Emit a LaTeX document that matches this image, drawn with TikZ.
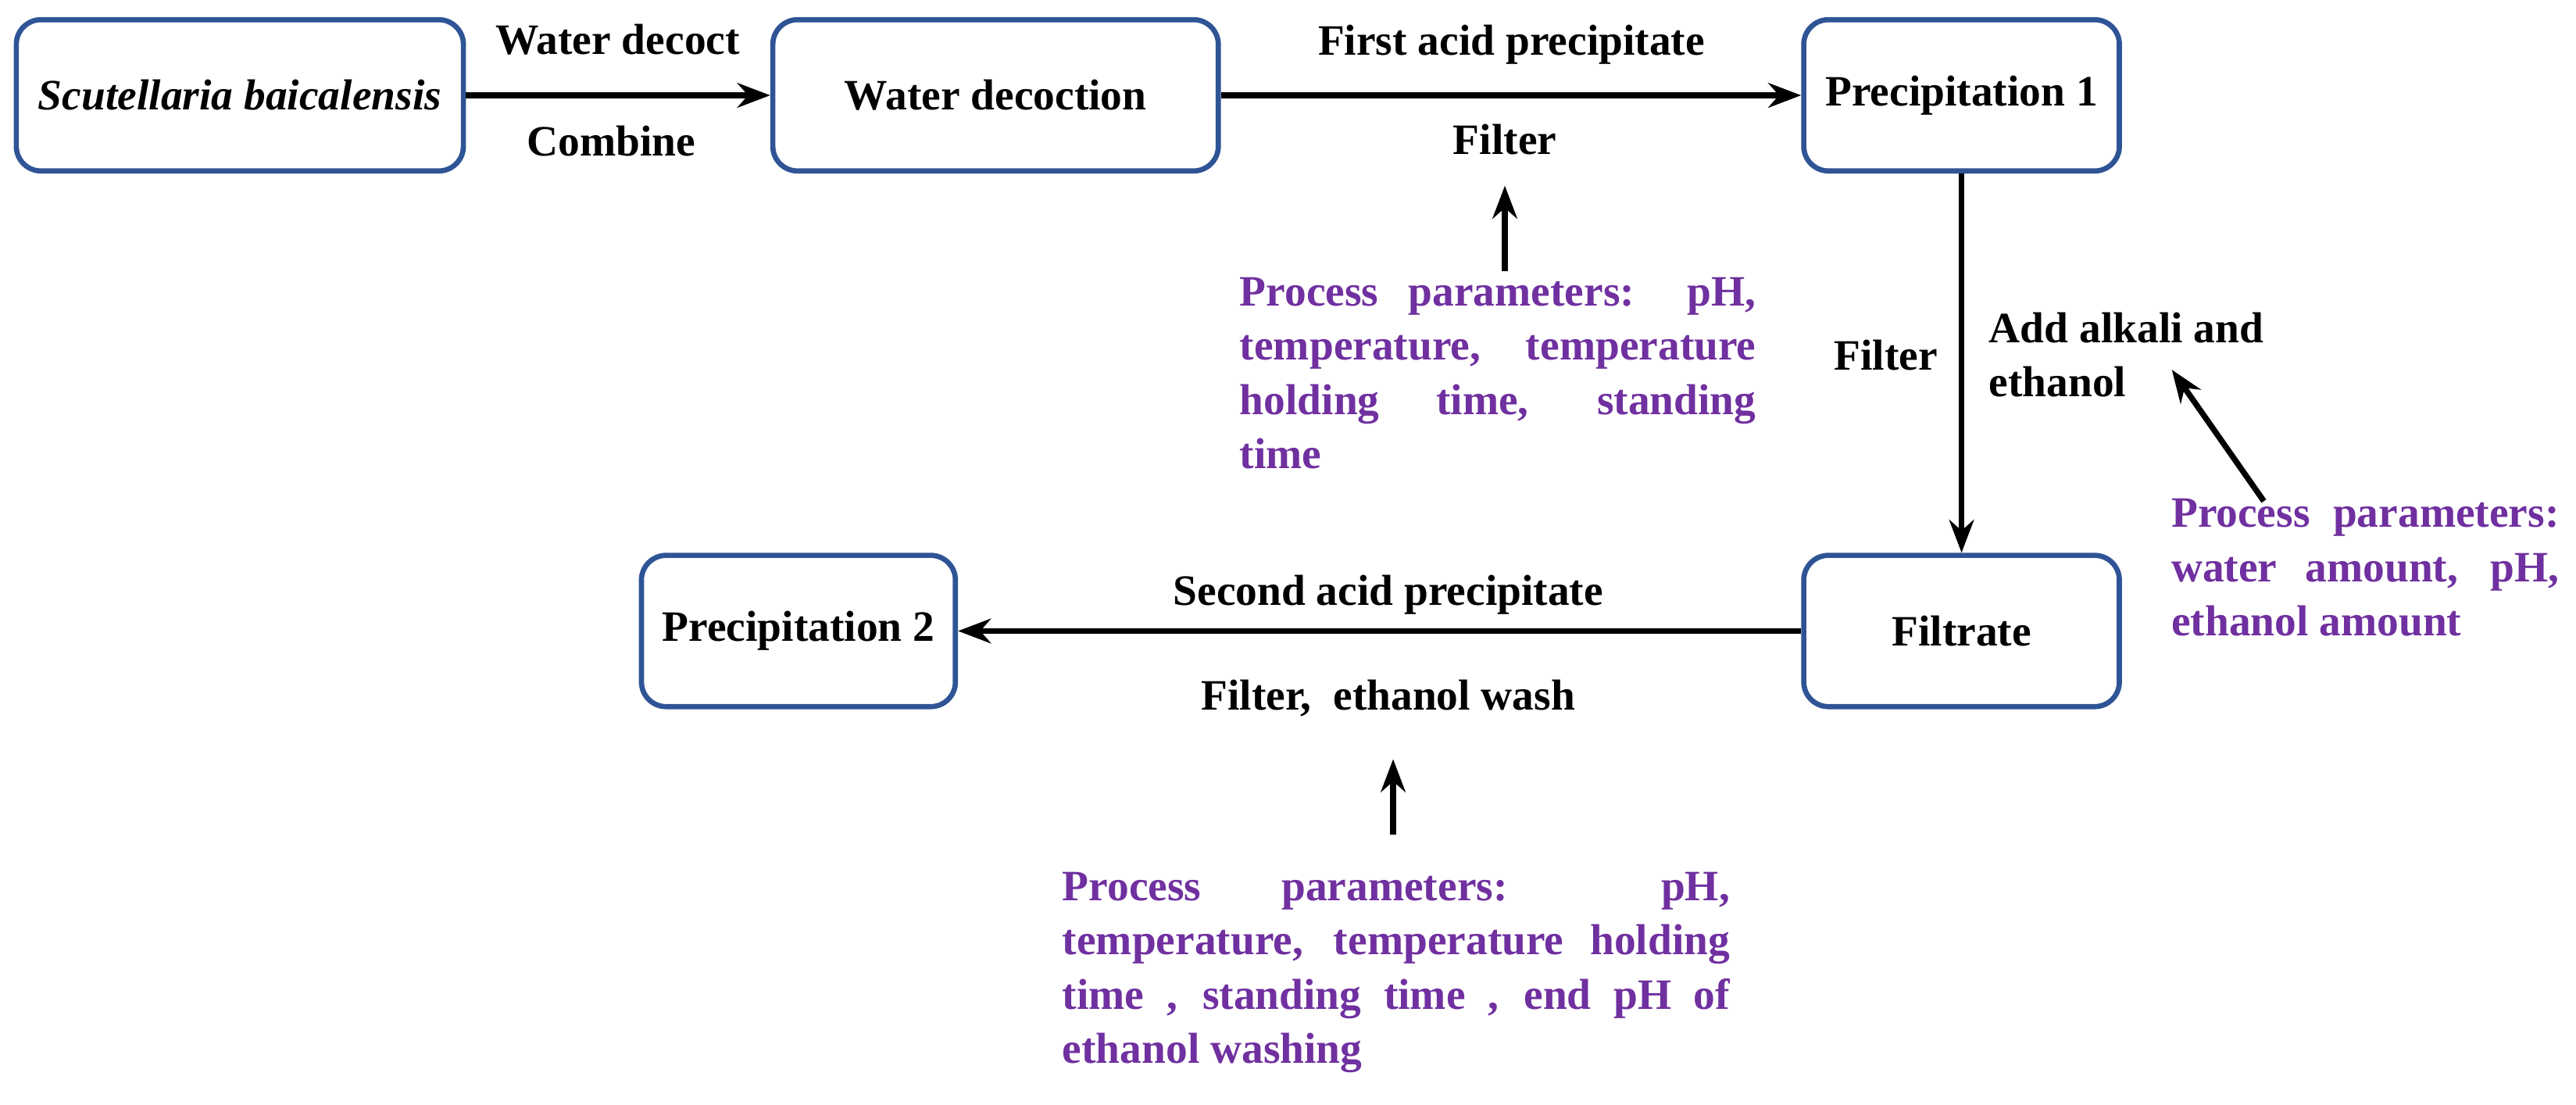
\documentclass[tikz,border=0pt]{standalone}
\usepackage{fontspec}
\setmainfont{Liberation Serif}
\usetikzlibrary{arrows.meta}
\definecolor{boxblue}{HTML}{2F5496}
\definecolor{ppurple}{HTML}{7030A0}
\begin{document}
\begin{tikzpicture}[x=0.01cm,y=-0.01cm,
  font=\fontsize{7.5pt}{9.4pt}\selectfont\bfseries,
  box/.style={draw=boxblue,line width=0.9pt,rounded corners=0.15cm,minimum height=0.92cm,inner sep=0pt},
  arr/.style={line width=1pt,-{Stealth[length=0.2cm,width=0.15cm]}},
  lab/.style={inner sep=0pt},
  par/.style={text=ppurple,align=justify,inner sep=0pt,anchor=north west,
    execute at begin node={\hyphenpenalty=10000\exhyphenpenalty=10000}}]
\useasboundingbox (0,0) rectangle (1568,672);
\node[box,minimum width=2.72cm] (sb) at (146,58) {\textit{Scutellaria baicalensis}};
\node[box,minimum width=2.71cm] (wd) at (606,58) {Water decoction};
\node[box,minimum width=1.92cm] (p1) at (1194,58) {Precipitation 1};
\node[box,minimum width=1.92cm] (fi) at (1194,384) {Filtrate};
\node[box,minimum width=1.91cm] (p2) at (486,384) {Precipitation 2};
\draw[arr] (sb) -- (wd);
\draw[arr] (wd) -- (p1);
\draw[arr] (p1) -- (fi);
\draw[arr] (fi) -- (p2);
\node[lab] at (376,24) {Water decoct};
\node[lab] at (372,86) {Combine};
\node[lab] at (920,27) {First acid precipitate};
\node[lab] (f1) at (916,85) {Filter};
\node[lab] at (1148,216) {Filter};
\node[lab,align=left,anchor=west] at (1210,216) {Add alkali and\\ethanol};
\node[lab] at (845,362) {Second acid precipitate};
\node[lab] (f2) at (845,425) {Filter,\ \ ethanol wash};
\node[par,text width=3.14cm] (t1) at (754,168) {Process parameters: pH,\linebreak temperature, temperature\linebreak holding time, standing\linebreak time};
\node[par,text width=2.36cm] (t2) at (1321,303) {Process parameters:\linebreak water amount, pH,\linebreak ethanol amount};
\node[par,text width=4.06cm] (t3) at (646,530) {Process parameters: pH,\linebreak temperature, temperature holding\linebreak time\ , standing time\ , end pH of\linebreak ethanol washing};
\coordinate (a1s) at (916,165); \coordinate (a1e) at (916,113);
\coordinate (a2s) at (1378,305); \coordinate (a2e) at (1322,225);
\coordinate (a3s) at (848,508); \coordinate (a3e) at (848,462);
\draw[arr] (a1s) -- (a1e);
\draw[arr] (a2s) -- (a2e);
\draw[arr] (a3s) -- (a3e);
\end{tikzpicture}
\end{document}
